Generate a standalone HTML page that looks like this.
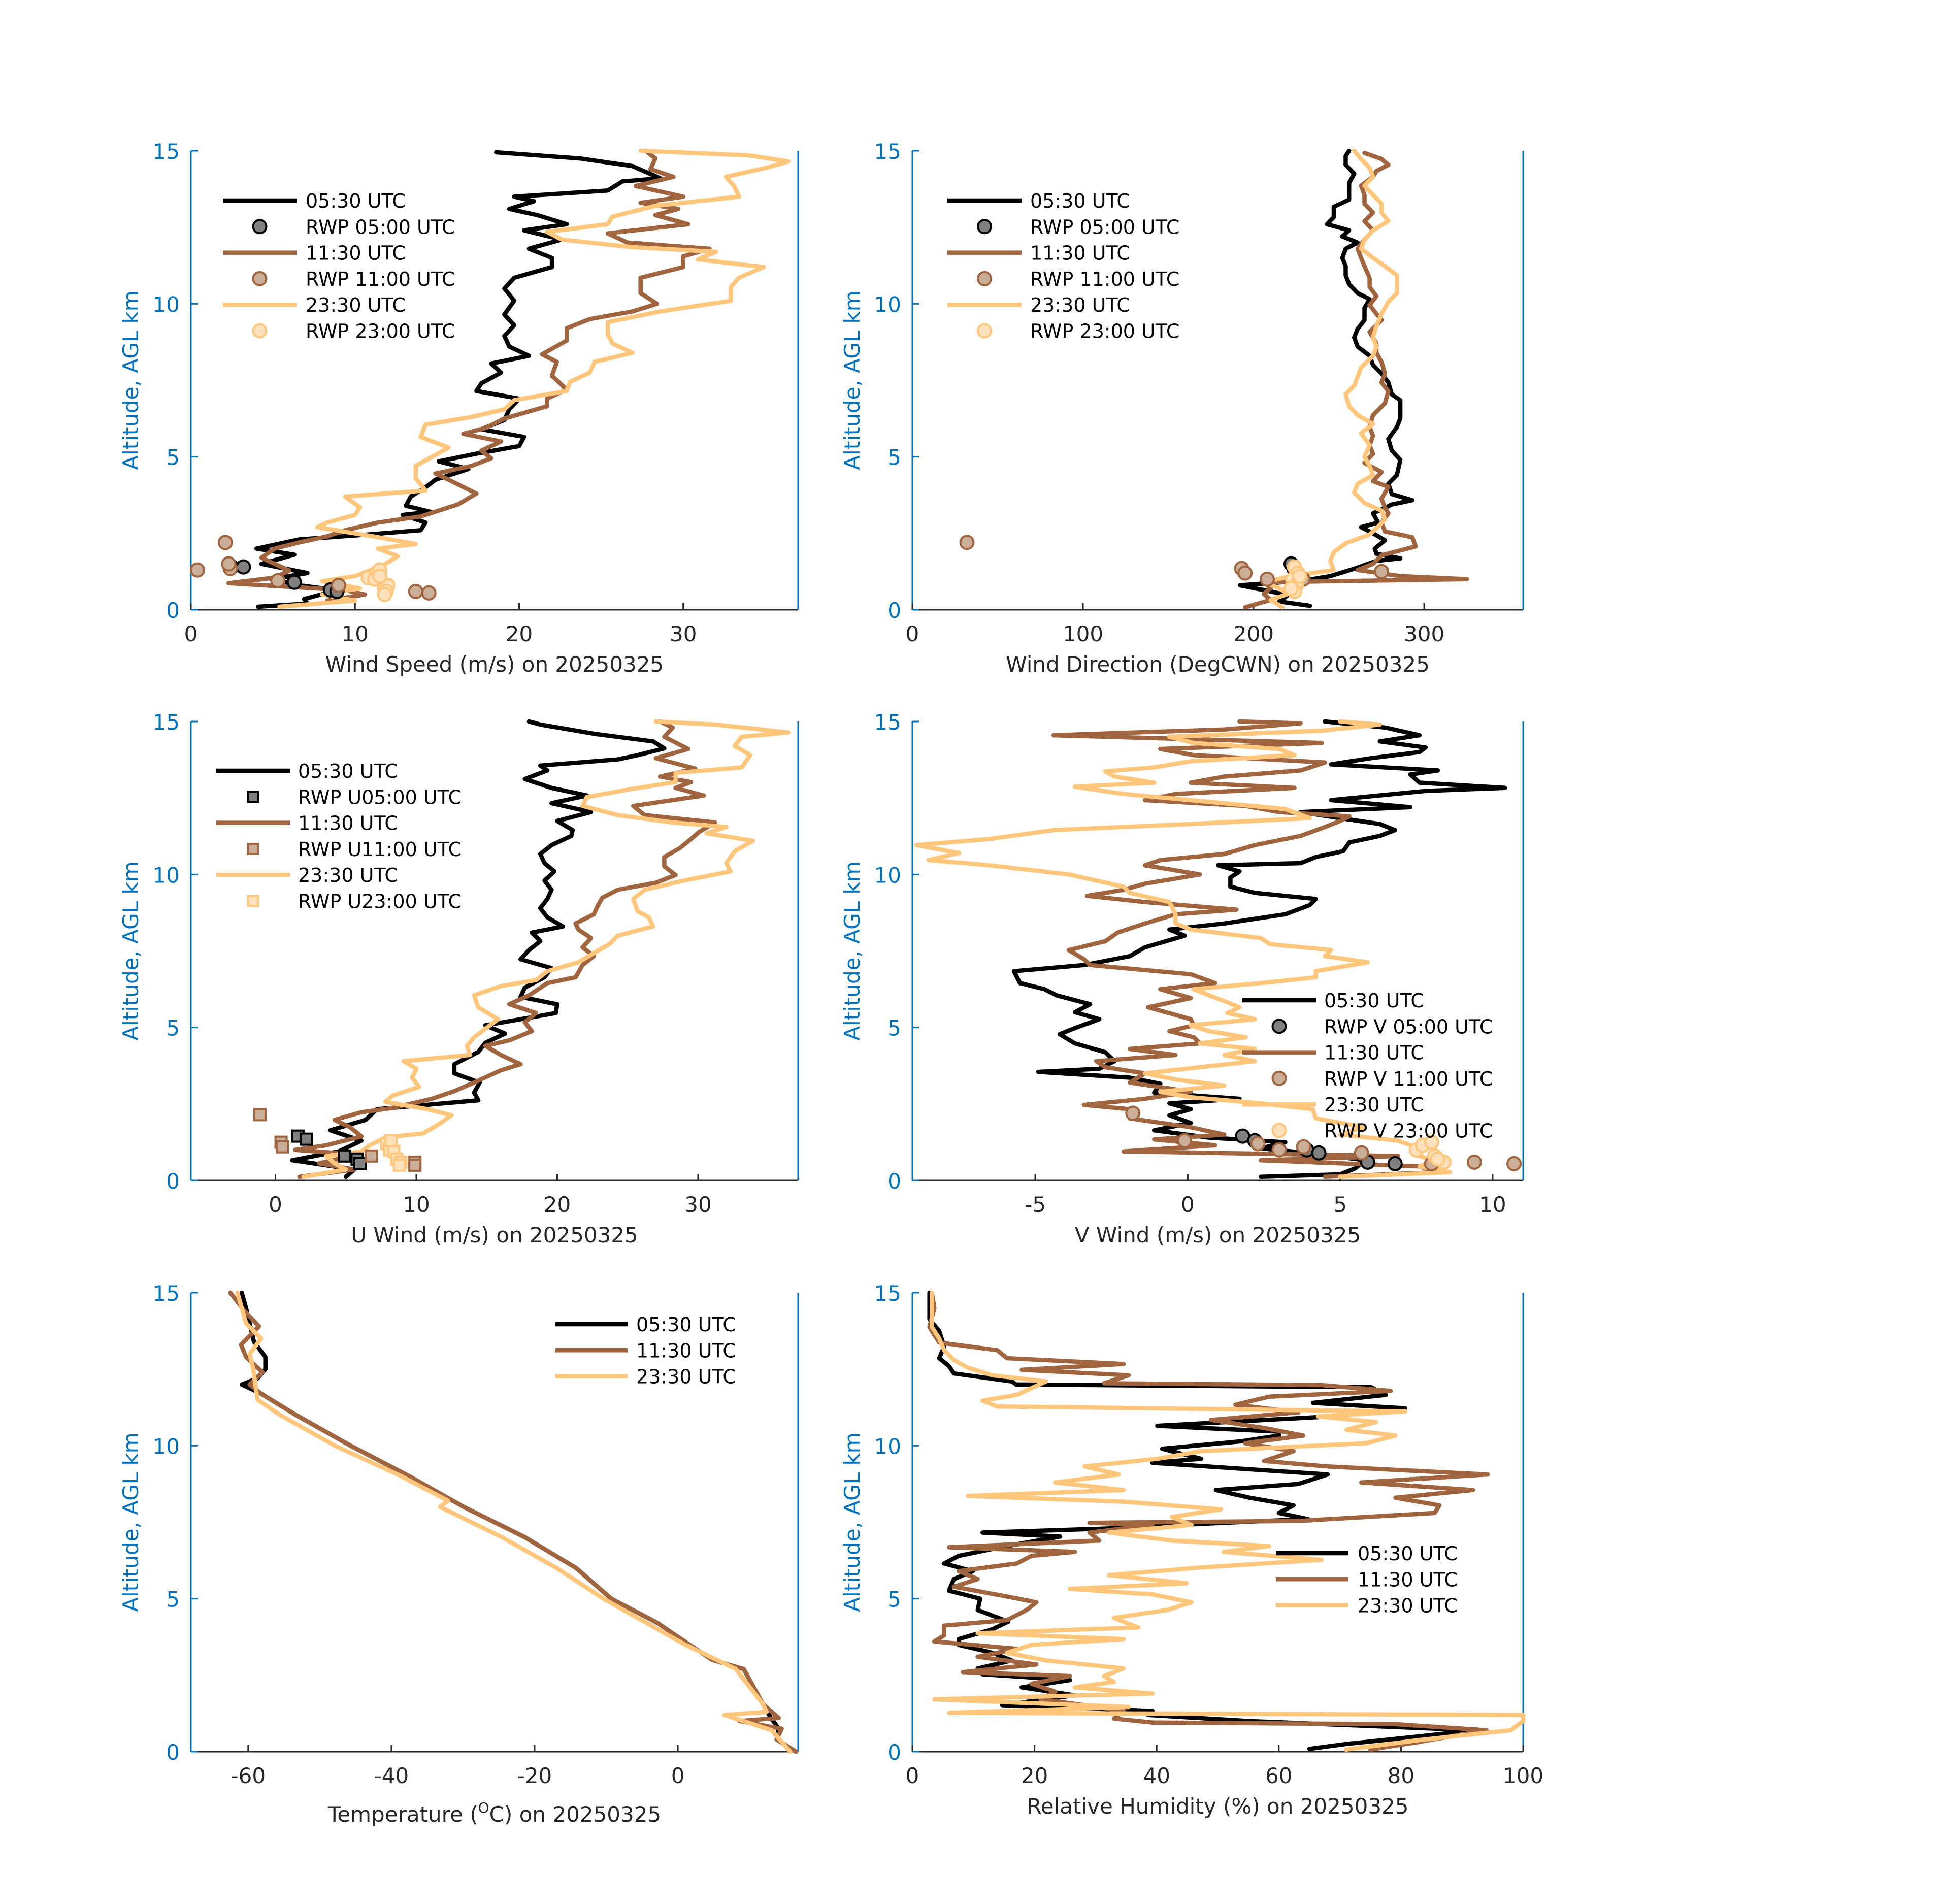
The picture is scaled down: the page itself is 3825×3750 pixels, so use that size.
<!DOCTYPE html>
<html><head><meta charset="utf-8"><style>
html,body{margin:0;padding:0;background:#fff;}
svg{display:block;font-family:"DejaVu Sans","Liberation Sans",sans-serif;}
</style></head><body>
<svg id="fig" xmlns="http://www.w3.org/2000/svg" width="3825" height="3750" viewBox="0 0 3825 3750"></svg>
<script>
// ---------- DATA ----------
// Wind speed (m/s)
const wsAlt0530=[0.1,0.2,0.35,0.64,0.8,1.0,1.2,1.5,1.8,2.0,2.3,2.45,2.6,2.85,3.1,3.2,3.4,3.7,4.0,4.25,4.6,4.85,5.1,5.35,5.65,5.9,6.2,6.55,6.9,7.15,7.4,7.75,8.05,8.3,8.6,8.95,9.3,9.65,10.1,10.5,10.85,11.2,11.5,11.8,12.1,12.4,12.6,12.9,13.1,13.35,13.5,13.7,14.0,14.1,14.5,14.75,14.95];
const wsVal0530=[4.1,7.1,6.9,8.9,6.6,4.9,7.1,4.3,6.3,4.0,6.6,10.6,14.0,14.3,12.9,14.6,13.1,13.4,14.3,14.9,16.9,15.1,17.4,20.0,20.3,17.7,19.1,19.4,20.0,17.4,17.7,18.9,18.3,20.6,19.4,19.1,19.7,19.1,19.7,19.1,19.7,22.0,22.0,20.6,22.6,20.3,22.9,21.1,19.4,20.9,19.7,25.4,26.3,28.6,26.9,23.7,18.6];
const wsAlt1130=[0.3,0.5,0.64,0.87,1.05,1.28,1.7,2.0,2.2,2.4,2.6,2.85,3.05,3.45,3.8,4.25,4.45,4.7,4.95,5.2,5.5,5.75,5.95,6.25,6.65,6.9,7.2,7.65,8.1,8.35,8.8,9.2,9.5,9.75,10.0,10.35,10.85,11.2,11.55,11.8,12.0,12.3,12.6,12.9,13.1,13.3,13.5,13.85,14.15,14.4,14.75,15.0];
const wsVal1130=[8.3,10.6,9.4,2.3,5.1,6.0,4.3,5.1,6.6,8.3,9.4,11.4,14.0,16.3,17.4,15.7,14.9,17.1,18.3,17.7,18.9,16.6,18.0,19.1,21.7,21.7,22.9,22.0,22.3,21.4,22.9,22.9,24.3,26.9,28.4,27.4,27.4,30.0,30.0,31.6,26.6,25.4,30.3,28.3,29.7,27.4,30.0,27.1,29.4,28.0,28.3,27.7];
const wsAlt2330=[0.1,0.3,0.5,0.7,0.93,1.1,1.45,1.75,2.0,2.15,2.4,2.7,2.85,3.1,3.35,3.7,3.9,4.3,4.7,5.3,5.65,6.05,6.3,6.55,6.85,7.15,7.45,7.75,8.1,8.4,8.7,9.0,9.4,9.75,10.1,10.55,10.85,11.2,11.45,11.7,11.85,12.1,12.35,12.6,12.85,13.2,13.5,13.85,14.15,14.45,14.65,14.85,15.0];
const wsVal2330=[5.4,10.0,8.0,10.3,8.0,10.0,11.7,12.6,11.4,13.7,11.1,7.7,8.3,10.0,10.3,9.4,14.3,13.7,13.7,15.7,14.0,14.3,17.1,19.1,19.7,22.9,23.1,24.3,24.6,26.9,25.7,25.4,25.4,28.6,32.9,32.9,33.4,34.9,30.9,32.0,26.9,22.6,21.7,25.4,25.7,28.3,33.4,33.1,32.6,35.1,36.4,34.0,27.4];
const wsRwpAlt0500=[1.4,1.4,0.9,0.65,0.6];
const wsRwpVal0500=[2.5,3.2,6.3,8.5,8.9];
const wsRwpAlt1100=[1.3,2.2,1.35,1.5,0.95,0.8,0.6,0.55];
const wsRwpVal1100=[0.4,2.1,2.4,2.3,5.3,9.0,13.7,14.5];
const wsRwpAlt2300=[1.05,1.2,1.3,1.0,0.7,0.8,0.6,1.1,0.5];
const wsRwpVal2300=[10.8,11.3,11.5,11.2,11.8,12.0,11.9,11.5,11.8];
// Wind direction (deg)
const wdAlt0530=[0.13,0.27,0.47,0.6,0.8,0.95,1.1,1.34,1.6,1.68,1.83,2.0,2.27,2.5,2.7,2.85,3.15,3.44,3.58,3.78,4.12,4.4,4.9,5.2,5.58,5.97,6.26,6.55,6.85,7.04,7.43,7.72,8.0,8.3,8.6,8.9,9.18,9.47,9.86,10.15,10.35,10.64,10.93,11.23,11.5,11.8,12.0,12.2,12.4,12.6,12.83,13.17,13.4,13.66,13.95,14.25,14.54,14.83,15.0];
const wdVal0530=[233,215,220,210,192,229,245,259,272,286,272,271,277,270,263,273,270,281,293,281,279,284,286,281,279,284,286,286,286,281,279,275,270,268,261,259,261,265,265,268,261,256,254,254,252,254,261,252,256,243,247,247,256,256,256,259,254,254,256];
const wdAlt1130=[0.08,0.32,0.52,0.71,0.9,1.0,1.1,1.3,1.5,1.78,2.07,2.37,2.56,2.85,3.15,3.34,3.63,4.02,4.2,4.5,4.8,5.1,5.38,5.68,5.97,6.36,6.75,7.14,7.43,7.72,8.1,8.4,8.7,9.08,9.47,9.67,9.96,10.25,10.55,10.84,11.23,11.5,11.8,12.1,12.4,12.7,12.98,13.27,13.56,13.86,14.15,14.34,14.54,14.73,14.93];
const wdVal1130=[195,210,206,210,206,325,286,261,270,275,295,293,277,275,279,277,275,279,270,275,265,270,268,270,268,270,277,279,275,277,275,272,272,268,275,272,268,272,268,268,265,263,261,265,270,265,270,265,265,263,270,272,279,275,265];
const wdAlt2330=[0.08,0.32,0.52,0.71,0.9,1.1,1.3,1.6,1.88,2.17,2.46,2.66,2.95,3.24,3.49,3.83,4.12,4.4,4.7,5.0,5.38,5.77,6.07,6.36,6.65,7.04,7.33,7.62,7.92,8.3,8.6,8.9,9.28,9.67,10.06,10.35,10.64,10.93,11.23,11.5,11.8,12.1,12.4,12.7,12.98,13.27,13.56,13.86,14.15,14.44,14.73,15.0];
const wdVal2330=[217,210,220,215,206,222,247,245,247,254,268,272,277,275,265,259,261,270,268,265,268,263,270,261,256,254,259,261,263,270,272,270,272,275,279,284,284,284,277,270,263,265,270,279,275,275,270,265,270,268,263,259];
const wdRwpAlt0500=[1.5,1.3];
const wdRwpVal0500=[222,224];
const wdRwpAlt1100=[2.2,1.35,1.2,1.0,1.0,1.25];
const wdRwpVal1100=[32,193,195,208,229,275];
const wdRwpAlt2300=[1.4,1.2,1.0,0.8,0.6,1.1,0.7];
const wdRwpVal2300=[224,226,223,225,224,227,222];
// U wind (m/s)
const uAlt0530=[0.12,0.36,0.66,0.95,1.3,1.64,1.98,2.33,2.62,2.87,3.2,3.5,3.8,4.2,4.5,4.8,5.07,5.27,5.47,5.76,6.0,6.3,6.64,6.94,7.23,7.53,7.82,8.1,8.3,8.6,8.9,9.2,9.5,9.8,10.1,10.37,10.67,10.96,11.26,11.45,11.75,12.04,12.33,12.58,12.83,13.12,13.4,13.56,13.76,13.9,14.12,14.35,14.6,14.9,15.0];
const uVal0530=[5.0,5.6,1.2,4.5,6.1,3.9,6.4,7.2,14.4,14.1,14.5,12.7,12.7,14.4,14.9,16.3,14.9,17.4,19.9,20.0,17.4,17.7,19.1,19.6,17.4,18.0,18.8,18.2,20.4,19.3,18.8,19.3,19.6,19.1,19.8,19.1,18.8,19.6,21.0,21.1,20.0,22.4,19.6,22.1,19.6,17.7,19.3,18.8,24.3,25.7,27.6,26.8,22.6,18.8,18.0];
const uAlt1130=[0.12,0.36,0.56,0.85,1.0,1.15,1.44,1.74,1.98,2.23,2.37,2.67,2.92,3.2,3.6,3.8,4.1,4.4,4.58,4.88,5.17,5.47,5.76,6.05,6.45,6.64,7.04,7.33,7.62,7.92,8.2,8.4,8.7,9.0,9.24,9.5,9.73,9.98,10.27,10.57,10.86,11.16,11.4,11.7,11.94,12.24,12.58,12.83,13.02,13.2,13.46,13.8,14.1,14.5,14.8,15.0];
const uVal1130=[1.7,5.6,3.1,5.8,1.4,3.6,6.1,5.3,4.2,6.1,8.3,11.1,12.7,14.1,16.0,17.4,16.0,14.9,16.6,18.2,17.7,18.5,16.6,18.0,19.3,21.3,21.8,22.6,21.8,22.4,21.5,21.3,22.6,22.9,23.2,24.3,27.0,28.4,27.6,27.6,28.7,29.5,30.1,31.2,26.2,25.4,30.4,28.4,29.5,27.3,29.8,27.0,29.3,27.6,28.2,27.3];
const uAlt2330=[0.12,0.36,0.56,0.8,0.95,1.15,1.4,1.54,1.84,2.13,2.33,2.57,2.77,3.06,3.36,3.65,3.9,4.1,4.4,4.68,5.27,5.66,6.05,6.35,6.55,6.84,7.13,7.43,7.72,8.0,8.3,8.6,8.8,9.2,9.5,9.8,10.1,10.37,10.76,11.1,11.35,11.55,11.7,11.94,12.24,12.53,12.78,13.02,13.32,13.5,13.9,14.2,14.5,14.64,14.9,15.0];
const uVal2330=[2.0,5.0,4.2,3.6,6.1,6.7,7.8,10.5,11.6,12.5,10.8,7.8,8.3,10.2,9.7,10.0,9.1,13.8,13.6,14.1,15.8,14.4,14.1,16.0,18.5,19.3,21.5,22.6,23.7,24.3,26.8,26.5,25.7,25.4,26.2,29.0,32.3,32.0,32.6,33.9,30.6,32.0,28.2,24.3,21.8,22.1,25.1,28.4,28.4,33.1,33.7,32.6,33.1,36.4,31.2,27.0];
const uRwpAlt0500=[1.45,1.35,0.8,0.7,0.55];
const uRwpVal0500=[1.6,2.2,4.9,5.8,6.0];
const uRwpAlt1100=[2.15,1.25,1.1,0.8,0.6,0.5];
const uRwpVal1100=[-1.1,0.4,0.5,6.8,9.9,9.9];
const uRwpAlt2300=[1.2,1.0,0.95,0.7,0.6,0.5,1.3];
const uRwpVal2300=[7.9,8.1,8.4,8.6,8.9,8.8,8.2];
// V wind (m/s)
const vAlt0530=[0.12,0.2,0.4,0.66,0.85,1.05,1.25,1.4,1.64,1.88,2.13,2.33,2.52,2.67,2.87,3.16,3.36,3.55,3.65,3.9,4.19,4.48,4.78,4.98,5.27,5.5,5.76,6.05,6.25,6.45,6.84,7.04,7.33,7.62,8.0,8.2,8.4,8.7,9.0,9.2,9.4,9.6,9.9,10.1,10.3,10.37,10.57,10.76,11.05,11.26,11.45,11.65,11.84,12.04,12.2,12.43,12.73,12.83,13.0,13.27,13.4,13.6,13.8,14.0,14.15,14.35,14.55,14.8,15.0];
const vVal0530=[2.4,5.0,5.5,5.8,4.4,2.4,3.2,0.7,-1.1,0.1,-0.6,0.1,-0.6,1.7,-1.1,-0.9,-1.9,-4.9,-2.9,-2.4,-2.7,-3.7,-4.2,-3.7,-2.9,-3.7,-3.2,-4.3,-4.7,-5.5,-5.7,-3.4,-1.9,-1.4,-0.1,-0.6,1.2,3.2,4.0,4.2,2.2,1.4,1.4,1.7,1.0,3.7,4.2,5.1,5.3,6.3,6.8,6.3,5.0,3.7,7.3,4.7,7.8,10.4,7.6,7.3,8.2,4.7,6.0,7.6,7.8,6.3,7.6,6.5,4.5];
const vAlt1130=[0.12,0.27,0.46,0.66,0.8,0.95,1.15,1.34,1.5,1.74,2.03,2.33,2.47,2.67,2.9,3.2,3.5,3.7,3.9,4.1,4.3,4.48,4.68,4.88,5.07,5.27,5.66,5.96,6.25,6.45,6.74,7.04,7.23,7.53,7.82,8.1,8.4,8.7,8.85,9.1,9.3,9.5,9.7,10.0,10.3,10.47,10.67,10.96,11.26,11.55,11.75,11.9,12.04,12.24,12.43,12.63,12.83,13.0,13.2,13.4,13.66,13.9,14.1,14.3,14.55,14.74,14.94,15.0];
const vVal1130=[4.5,8.2,7.6,2.4,6.9,-2.1,0.9,-1.1,1.2,0.1,-1.9,-1.9,-3.4,-1.4,0.1,-1.9,-1.4,-2.7,-3.0,-0.4,-1.9,0.4,0.2,-0.6,0.2,0.1,-1.3,0.1,-0.9,0.9,0.1,-3.2,-3.4,-3.9,-2.7,-2.3,-1.4,-0.4,1.6,-1.4,-3.3,-2.1,-1.4,0.4,-1.4,-0.9,1.2,2.2,3.7,4.5,5.0,5.3,3.0,1.9,-1.4,-0.4,3.5,0.1,1.2,3.7,4.5,0.2,-0.9,4.4,-4.4,1.2,3.7,1.7];
const vAlt2330=[0.12,0.27,0.46,0.66,0.85,1.05,1.3,1.5,1.74,2.03,2.33,2.52,2.72,2.9,3.1,3.3,3.5,3.7,3.9,4.1,4.3,4.48,4.68,4.88,5.07,5.27,5.47,5.66,5.86,6.05,6.25,6.45,6.64,6.84,7.13,7.33,7.53,7.72,7.92,8.2,8.4,8.7,9.1,9.4,9.6,10.0,10.3,10.47,10.7,10.96,11.16,11.45,11.65,11.84,12.14,12.43,12.63,12.87,13.0,13.2,13.37,13.5,13.7,13.9,14.1,14.3,14.5,14.7,14.9,15.0];
const vVal2330=[5.0,8.6,7.6,8.1,7.4,7.6,6.9,5.0,5.8,4.2,4.1,2.4,0.1,-0.9,1.2,-0.4,-1.4,0.4,2.2,1.2,2.2,0.4,1.9,0.7,0.1,2.2,1.3,1.7,1.2,0.7,0.2,2.4,4.2,4.2,5.9,4.5,4.7,2.7,2.4,0.1,-0.4,-0.4,-0.6,-1.9,-2.1,-3.9,-6.5,-8.5,-7.5,-8.9,-6.5,-4.4,0.1,4.0,3.2,0.1,-2.1,-3.7,-1.1,-2.4,-2.7,-1.1,0.1,3.5,3.0,0.2,-0.6,4.4,6.3,5.0];
const vRwpAlt0500=[1.45,1.3,1.0,0.9,0.6,0.55];
const vRwpVal0500=[1.8,2.2,3.9,4.3,5.9,6.8];
const vRwpAlt1100=[2.2,1.3,1.2,1.0,1.1,0.9,0.55,0.6,0.55];
const vRwpVal1100=[-1.8,-0.1,2.3,3.0,3.8,5.7,8.0,9.4,10.7];
const vRwpAlt2300=[1.0,1.15,1.25,0.8,0.6,0.7];
const vRwpVal2300=[7.5,7.7,8.0,8.1,8.4,8.2];
// Temperature (C)
const tAlt0530=[0.0,0.4,0.75,1.1,1.55,2.7,3.0,3.5,4.2,5.0,6.0,7.0,8.0,9.0,10.0,11.0,11.7,12.0,12.2,12.5,12.9,13.4,14.0,14.5,15.0];
const tVal0530=[16.5,13.8,14.1,13.0,11.9,9.2,4.8,1.6,-2.8,-9.3,-14.2,-21.3,-29.9,-37.5,-45.7,-53.3,-58.2,-60.9,-58.7,-57.6,-57.6,-59.2,-59.8,-60.3,-60.9];
const tAlt1130=[0.0,0.4,0.75,1.0,1.1,1.55,2.7,3.0,3.5,4.2,5.0,6.0,7.0,8.0,9.0,10.0,11.0,11.7,12.0,12.4,12.9,13.3,13.9,14.4,15.0];
const tVal1130=[16.5,13.8,14.5,8.6,14.1,11.9,9.2,4.8,1.6,-2.8,-9.3,-14.2,-21.3,-29.9,-37.5,-45.7,-53.3,-58.2,-59.8,-58.0,-60.3,-61.0,-58.5,-60.5,-62.5];
const tAlt2330=[0.0,0.7,1.2,1.3,1.55,2.7,3.5,5.0,6.0,7.0,8.0,8.2,9.0,10.0,11.0,11.5,12.0,12.5,13.0,13.5,14.0,15.0];
const tVal2330=[15.7,13.1,6.5,12.4,11.9,8.1,1.0,-10.4,-16.9,-24.5,-33.2,-32.1,-38.6,-47.9,-55.5,-58.7,-59.0,-59.3,-59.8,-58.2,-60.3,-61.5];
// Relative humidity (%)
const rhAlt0530=[0.09,0.25,0.5,0.7,1.0,1.2,1.33,1.52,1.84,2.1,2.34,2.53,2.72,2.98,3.23,3.49,3.68,4.0,4.25,4.63,5.0,5.26,5.64,5.9,6.15,6.4,6.72,7.03,7.16,7.29,7.48,7.6,7.8,8.05,8.3,8.55,8.75,9.06,9.44,9.57,9.9,10.14,10.33,10.46,10.65,10.96,11.22,11.4,11.66,11.91,12.0,12.1,12.36,12.6,12.86,13.24,13.75,14.13,14.5,15.0];
const rhVal0530=[65,71,83,92,55,38.6,39.3,14.7,26.6,17.9,25.8,11.5,10.7,16.3,13.1,7.6,7.6,13.1,15.7,10.7,11.1,6.0,6.8,9.9,5.2,7.6,15.5,24.2,11.5,31.4,51,64.8,60,62.4,55.2,49.7,63.2,68,39.3,47.3,40.9,53.7,60,60,40.1,68.8,80.7,65.6,77.5,75.1,17,16.3,6.8,6.0,4.4,5.2,4.4,2.8,2.8,2.8];
const rhAlt1130=[0.07,0.32,0.7,0.9,0.95,1.08,1.33,1.52,1.71,1.96,2.22,2.47,2.6,2.85,3.1,3.36,3.6,3.8,4.12,4.3,4.63,4.88,5.07,5.39,5.64,5.9,6.15,6.4,6.53,6.68,6.9,7.16,7.41,7.48,7.54,7.8,8.05,8.3,8.55,8.8,9.06,9.32,9.5,9.82,10.08,10.33,10.58,10.84,11.09,11.34,11.6,11.79,11.98,12.04,12.3,12.48,12.67,12.86,13.12,13.37,13.62,13.88,14.5,15.0];
const rhVal1130=[75,83,94,79,39.3,33,34.6,28.2,21,23.4,19.5,25.8,8.3,20.3,10.7,17.1,3.6,5.2,5.2,15.5,18.7,20.3,15.5,6.8,10.7,7.6,17.1,19.5,26.6,6.0,30.6,29,39.3,29,63.2,85.5,86.3,79.1,91.8,73.5,94.2,68,57.6,62.4,54.5,64,57.6,48.9,63.2,52.9,58.4,78.3,67,31.4,35.4,17.9,34.6,15.5,13.9,4.4,3.6,2.8,3.6,3.2];
const rhAlt2330=[0.07,0.38,0.7,1.0,1.2,1.27,1.46,1.71,1.9,2.1,2.28,2.47,2.72,2.98,3.23,3.49,3.68,3.87,4.06,4.37,4.63,4.88,5.14,5.32,5.5,5.77,6.02,6.27,6.53,6.72,6.9,7.16,7.41,7.67,7.92,8.17,8.36,8.55,8.8,9.06,9.32,9.57,9.82,10.08,10.33,10.52,10.77,10.96,11.12,11.28,11.47,11.66,12.1,12.3,12.55,12.8,13.12,13.5,13.88,14.5,15.0];
const rhVal2330=[71,83,98,100,100,6,35.4,3.6,39.3,26.6,33,31.4,34.6,21.9,15.5,19.5,34.6,10.7,37,33,41.7,45.7,39.3,25.8,44.9,32.2,47.3,67,51,58.4,42.5,32.2,45.7,42.5,50.5,34.6,9.1,34.6,23.4,33.8,28.2,40.1,47.3,74.3,79.1,71.1,75.9,66.4,80.7,13.9,11.5,17.1,21.9,13.1,9.1,6.8,5.2,4.4,3.2,3.2,3.2];
// Tick labels
const altTicks=[0,5,10,15];
const wsTicks=[0,10,20,30];
const wdTicks=[0,100,200,300];
const uTicks=[0,10,20,30];
const vTicks=[-5,0,5,10];
const tTicks=[-60,-40,-20,0];
const rhTicks=[0,20,40,60,80,100];
const legendLabels=["05:30 UTC","11:30 UTC","23:30 UTC"];

// ---------- DRAWING ----------
const NS="http://www.w3.org/2000/svg";
const svg=document.getElementById('fig');
const C_BLK="#000000",C_BRN="#A0643E",C_ORG="#FFC67C";
const F_BLK="#808080",F_BRN="#CBAE98",F_ORG="#FFE2BC";
const AXC="#0072BD",TXC="#262626";
function el(tag,attrs,parent){const e=document.createElementNS(NS,tag);for(const k in attrs)e.setAttribute(k,attrs[k]);(parent||svg).appendChild(e);return e;}

const H=904;
function makePanel(name,x0,y0,W,xmin,xmax,ticks,xlabel,labelOffset){
  const g=el('g',{});
  
  
  const sx=v=>x0+(v-xmin)/(xmax-xmin)*W;
  const sy=a=>y0+H-a/15*H;
  const cid='clip-'+name;
  const cp=el('clipPath',{id:cid},g);
  el('rect',{x:x0-20,y:y0-20,width:W+40,height:H+40},cp);
  const xa=el('line',{x1:x0,y1:y0+H,x2:x0+W,y2:y0+H,stroke:TXC,'stroke-width':3},g);
  
  
  const ya=el('line',{x1:x0,y1:y0,x2:x0,y2:y0+H,stroke:AXC,'stroke-width':3},g);
  
  
  const yr=el('line',{x1:x0+W,y1:y0,x2:x0+W,y2:y0+H,stroke:AXC,'stroke-width':3},g);
  
  
  ticks.forEach(t=>{
    const x=sx(t);
    el('line',{x1:x,y1:y0+H,x2:x,y2:y0+H-13,stroke:TXC,'stroke-width':3},g);
    const tx=el('text',{x:x,y:y0+H+62,'font-size':42,fill:TXC,'text-anchor':'middle'},g);
    tx.textContent=t<0?'-'+Math.abs(t):String(t);
    
    
  });
  altTicks.forEach(t=>{
    const y=sy(t);
    el('line',{x1:x0,y1:y,x2:x0+13,y2:y,stroke:AXC,'stroke-width':3},g);
    const tx=el('text',{x:x0-22,y:y+16,'font-size':42,fill:AXC,'text-anchor':'end'},g);
    tx.textContent=String(t);
    
    
  });
  const xl=el('text',{x:x0+W/2,y:y0+H+(labelOffset||130),'font-size':42,fill:TXC,'text-anchor':'middle'},g);
  xl.innerHTML=xlabel;
  
  
  const yl=el('text',{x:0,y:0,'font-size':42,fill:AXC,'text-anchor':'middle',transform:`translate(${x0-104},${y0+H/2}) rotate(-90)`},g);
  yl.textContent='Altitude, AGL km';
  
  
  const plot=el('g',{'clip-path':`url(#${cid})`},g);
  return {g,plot,sx,sy};
}
function drawLine(p,alts,vals,color,name){
  let d='';
  for(let i=0;i<alts.length;i++){d+=(i?'L':'M')+p.sx(vals[i]).toFixed(1)+','+p.sy(alts[i]).toFixed(1);}
  const path=el('path',{d:d,fill:'none',stroke:color,'stroke-width':8.5,'stroke-linejoin':'round','stroke-linecap':'round'},p.plot);
  
  
}
function drawMarkers(p,alts,vals,fill,stroke,shape,name){
  for(let i=0;i<alts.length;i++){
    const x=p.sx(vals[i]),y=p.sy(alts[i]);
    let m;
    if(shape==='sq') m=el('rect',{x:x-11,y:y-11,width:22,height:22,fill:fill,stroke:stroke,'stroke-width':4},p.plot);
    else m=el('circle',{cx:x,cy:y,r:13,fill:fill,stroke:stroke,'stroke-width':4},p.plot);
    
    
  }
}
function legend(p,x1,x2,tx,y,entries){
  const lg=el('g',{},p.g);
  
  
  entries.forEach((e,i)=>{
    const yy=y+i*51.3;
    if(e.type==='line'){
      el('line',{x1:x1,y1:yy,x2:x2,y2:yy,stroke:e.color,'stroke-width':8.5},lg);
    }else if(e.type==='sq'){
      el('rect',{x:(x1+x2)/2-10,y:yy-10,width:20,height:20,fill:e.fill,stroke:e.color,'stroke-width':4},lg);
    }else{
      el('circle',{cx:(x1+x2)/2,cy:yy,r:13,fill:e.fill,stroke:e.color,'stroke-width':4},lg);
    }
    const t=el('text',{x:tx,y:yy+14,'font-size':38,fill:'#000'},lg);
    t.textContent=e.label;
    
    
  });
}
const X1=376,X2=1797,Y1=297,Y2=1421,Y3=2546,W1=1196,W2=1203;

const p1=makePanel('wind-speed-panel',X1,Y1,W1,0,37,wsTicks,'Wind Speed (m/s) on 20250325',122);
drawLine(p1,wsAlt0530,wsVal0530,C_BLK,'ws-0530-line');
drawLine(p1,wsAlt1130,wsVal1130,C_BRN,'ws-1130-line');
drawLine(p1,wsAlt2330,wsVal2330,C_ORG,'ws-2330-line');
drawMarkers(p1,wsRwpAlt0500,wsRwpVal0500,F_BLK,C_BLK,'c','ws-rwp-0500');
drawMarkers(p1,wsRwpAlt1100,wsRwpVal1100,F_BRN,C_BRN,'c','ws-rwp-1100');
drawMarkers(p1,wsRwpAlt2300,wsRwpVal2300,F_ORG,C_ORG,'c','ws-rwp-2300');
legend(p1,439,584,602,395,[
 {type:'line',color:C_BLK,label:legendLabels[0]},{type:'c',color:C_BLK,fill:F_BLK,label:'RWP 05:00 UTC'},
 {type:'line',color:C_BRN,label:legendLabels[1]},{type:'c',color:C_BRN,fill:F_BRN,label:'RWP 11:00 UTC'},
 {type:'line',color:C_ORG,label:legendLabels[2]},{type:'c',color:C_ORG,fill:F_ORG,label:'RWP 23:00 UTC'}]);

const p2=makePanel('wind-direction-panel',X2,Y1,W2,0,358,wdTicks,'Wind Direction (DegCWN) on 20250325',122);
drawLine(p2,wdAlt0530,wdVal0530,C_BLK,'wd-0530-line');
drawLine(p2,wdAlt1130,wdVal1130,C_BRN,'wd-1130-line');
drawLine(p2,wdAlt2330,wdVal2330,C_ORG,'wd-2330-line');
drawMarkers(p2,wdRwpAlt0500,wdRwpVal0500,F_BLK,C_BLK,'c','wd-rwp-0500');
drawMarkers(p2,wdRwpAlt1100,wdRwpVal1100,F_BRN,C_BRN,'c','wd-rwp-1100');
drawMarkers(p2,wdRwpAlt2300,wdRwpVal2300,F_ORG,C_ORG,'c','wd-rwp-2300');
legend(p2,1866,2012,2029,395,[
 {type:'line',color:C_BLK,label:legendLabels[0]},{type:'c',color:C_BLK,fill:F_BLK,label:'RWP 05:00 UTC'},
 {type:'line',color:C_BRN,label:legendLabels[1]},{type:'c',color:C_BRN,fill:F_BRN,label:'RWP 11:00 UTC'},
 {type:'line',color:C_ORG,label:legendLabels[2]},{type:'c',color:C_ORG,fill:F_ORG,label:'RWP 23:00 UTC'}]);

const p3=makePanel('u-wind-panel',X1,Y2,W1,-6,37.1,uTicks,'U Wind (m/s) on 20250325',122);
drawLine(p3,uAlt0530,uVal0530,C_BLK,'u-0530-line');
drawLine(p3,uAlt1130,uVal1130,C_BRN,'u-1130-line');
drawLine(p3,uAlt2330,uVal2330,C_ORG,'u-2330-line');
drawMarkers(p3,uRwpAlt0500,uRwpVal0500,F_BLK,C_BLK,'sq','u-rwp-0500');
drawMarkers(p3,uRwpAlt1100,uRwpVal1100,F_BRN,C_BRN,'sq','u-rwp-1100');
drawMarkers(p3,uRwpAlt2300,uRwpVal2300,F_ORG,C_ORG,'sq','u-rwp-2300');
legend(p3,426,571,587,Y2+97,[
 {type:'line',color:C_BLK,label:legendLabels[0]},{type:'sq',color:C_BLK,fill:F_BLK,label:'RWP U05:00 UTC'},
 {type:'line',color:C_BRN,label:legendLabels[1]},{type:'sq',color:C_BRN,fill:F_BRN,label:'RWP U11:00 UTC'},
 {type:'line',color:C_ORG,label:legendLabels[2]},{type:'sq',color:C_ORG,fill:F_ORG,label:'RWP U23:00 UTC'}]);

const p4=makePanel('v-wind-panel',X2,Y2,W2,-9.03,11.0,vTicks,'V Wind (m/s) on 20250325',122);
drawLine(p4,vAlt0530,vVal0530,C_BLK,'v-0530-line');
drawLine(p4,vAlt1130,vVal1130,C_BRN,'v-1130-line');
drawLine(p4,vAlt2330,vVal2330,C_ORG,'v-2330-line');
drawMarkers(p4,vRwpAlt0500,vRwpVal0500,F_BLK,C_BLK,'c','v-rwp-0500');
drawMarkers(p4,vRwpAlt1100,vRwpVal1100,F_BRN,C_BRN,'c','v-rwp-1100');
drawMarkers(p4,vRwpAlt2300,vRwpVal2300,F_ORG,C_ORG,'c','v-rwp-2300');
legend(p4,2447,2592,2608,Y2+549,[
 {type:'line',color:C_BLK,label:legendLabels[0]},{type:'c',color:C_BLK,fill:F_BLK,label:'RWP V 05:00 UTC'},
 {type:'line',color:C_BRN,label:legendLabels[1]},{type:'c',color:C_BRN,fill:F_BRN,label:'RWP V 11:00 UTC'},
 {type:'line',color:C_ORG,label:legendLabels[2]},{type:'c',color:C_ORG,fill:F_ORG,label:'RWP V 23:00 UTC'}]);

const p5=makePanel('temperature-panel',X1,Y3,W1,-68,16.8,tTicks,'Temperature (<tspan font-size="28" dy="-18">O</tspan><tspan dy="18">C) on 20250325</tspan>',138);
drawLine(p5,tAlt0530,tVal0530,C_BLK,'t-0530-line');
drawLine(p5,tAlt1130,tVal1130,C_BRN,'t-1130-line');
drawLine(p5,tAlt2330,tVal2330,C_ORG,'t-2330-line');
legend(p5,1094,1236,1253,Y3+62,[
 {type:'line',color:C_BLK,label:legendLabels[0]},{type:'line',color:C_BRN,label:legendLabels[1]},{type:'line',color:C_ORG,label:legendLabels[2]}]);

const p6=makePanel('humidity-panel',X2,Y3,W2,0,100,rhTicks,'Relative Humidity (%) on 20250325',122);
drawLine(p6,rhAlt0530,rhVal0530,C_BLK,'rh-0530-line');
drawLine(p6,rhAlt1130,rhVal1130,C_BRN,'rh-1130-line');
drawLine(p6,rhAlt2330,rhVal2330,C_ORG,'rh-2330-line');
legend(p6,2513,2656,2674,Y3+513,[
 {type:'line',color:C_BLK,label:legendLabels[0]},{type:'line',color:C_BRN,label:legendLabels[1]},{type:'line',color:C_ORG,label:legendLabels[2]}]);
</script>
</body></html>
